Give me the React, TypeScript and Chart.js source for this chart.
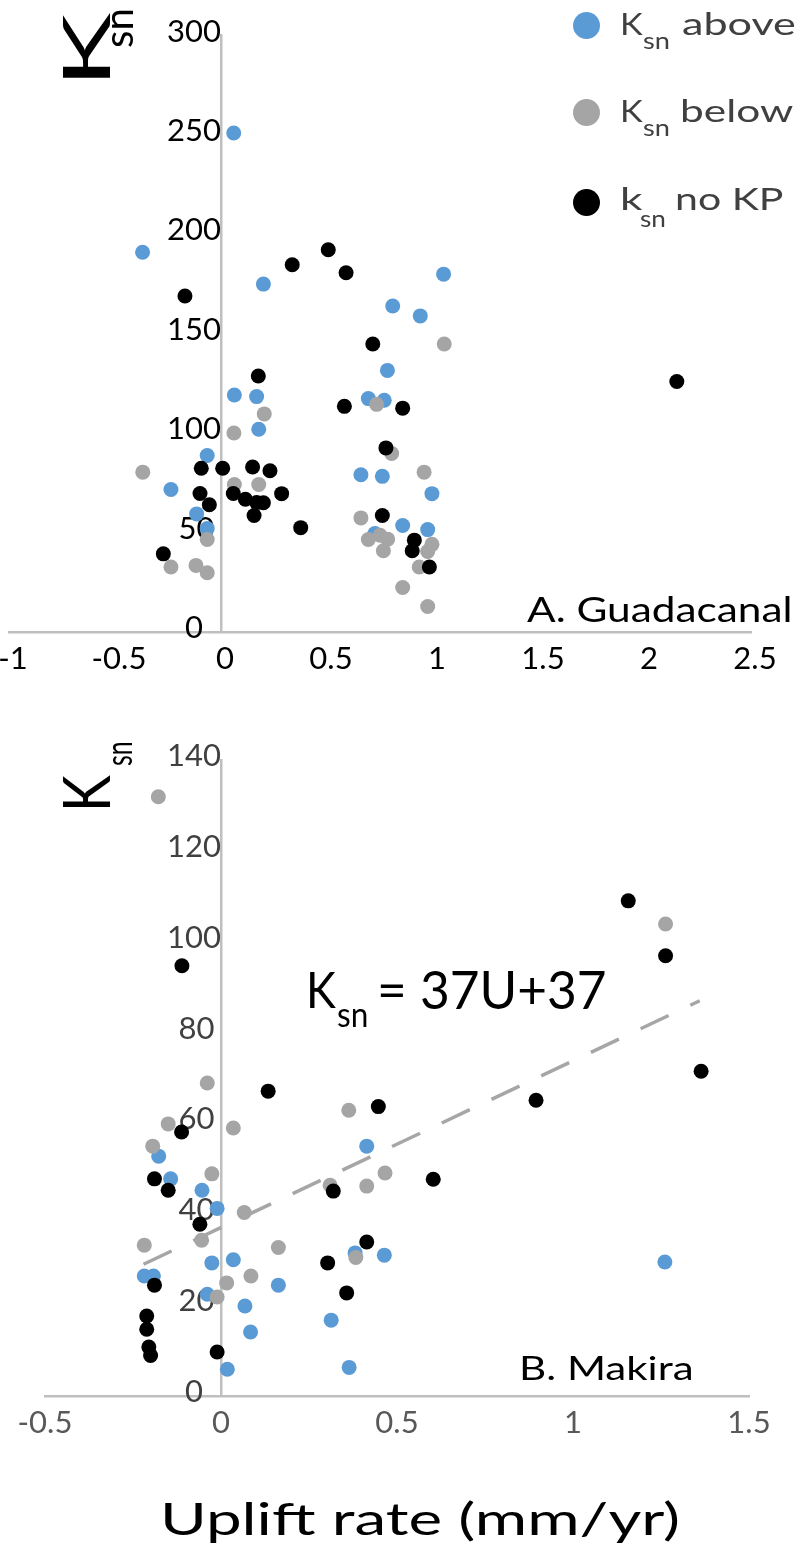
import React, { useEffect, useRef } from "react";
import { Chart, registerables } from "chart.js";

Chart.register(...registerables);

// ---------- data: Panel A (Guadacanal) ----------
const aAboveU = [0.06, -0.37, 0.2, 0.81, 1.05, 0.94, 0.785, 0.063, 0.168, 0.695, 0.77, 0.178, -0.065, 0.66, 0.761, -0.236, 0.995, -0.115, -0.065, 0.857, 0.975, 0.726];
const aAboveK = [251, 191, 175, 164, 180, 159, 131.6, 119.2, 118.4, 117.4, 116.6, 102, 88.8, 79.1, 78.3, 71.7, 69.6, 59.4, 52.0, 53.6, 51.5, 49.5];
const aBelowU = [1.053, 0.734, 0.204, 0.061, 0.805, -0.369, 0.958, 0.063, 0.178, 0.66, -0.065, 0.695, 0.75, 0.786, 0.995, 0.975, 0.766, -0.236, -0.118, -0.065, 0.935, 0.857, 0.975];
const aBelowK = [144.9, 114.5, 109.7, 100.1, 89.8, 80.4, 80.4, 74.2, 74.2, 57.4, 46.5, 46.5, 48.7, 46.7, 44.1, 40.5, 40.9, 32.7, 33.5, 29.8, 32.7, 22.4, 12.8];
const aNoKpU = [-0.17, 0.336, 0.506, 0.59, 2.15, 0.716, 0.176, 0.582, 0.857, 0.778, -0.093, 0.008, 0.149, 0.231, -0.099, 0.058, 0.286, 0.115, 0.2, 0.168, -0.055, 0.156, 0.761, 0.376, 0.912, -0.272, 0.902, 0.983];
const aNoKpK = [169, 184.7, 192.3, 180.7, 126, 144.9, 128.8, 113.5, 112.6, 92.6, 82.4, 82.4, 83.0, 81.1, 69.7, 69.7, 69.6, 66.8, 65.0, 65.1, 64.0, 58.6, 58.6, 52.5, 46.2, 39.3, 40.9, 32.7];
const aXTicks = [-1, -0.5, 0, 0.5, 1, 1.5, 2, 2.5];
const aYTicks = [0, 50, 100, 150, 200, 250, 300];

// ---------- data: Panel B (Makira) ----------
const bAboveU = [-0.177, 0.414, -0.143, -0.054, -0.011, 0.381, 0.464, -0.026, 0.035, -0.218, -0.192, 0.163, -0.039, 0.068, 0.313, 0.084, 0.018, 0.364, 1.261];
const bAboveK = [52.8, 55.0, 47.8, 45.3, 41.3, 31.5, 31.0, 29.3, 30.0, 26.4, 26.4, 24.4, 22.4, 19.8, 16.7, 14.1, 5.9, 6.3, 29.5];
const bBelowU = [-0.178, 1.263, -0.039, 0.363, -0.15, 0.035, -0.194, -0.026, 0.466, 0.414, 0.31, 0.066, -0.055, -0.218, 0.163, 0.383, 0.085, 0.016, -0.011];
const bBelowK = [131.9, 103.9, 68.9, 62.9, 59.9, 59.0, 55.0, 48.9, 49.1, 46.2, 46.4, 40.4, 34.3, 33.2, 32.7, 30.5, 26.4, 24.9, 21.8];
const bNoKpU = [-0.111, 1.157, 1.263, 1.364, 0.134, 0.447, 0.895, -0.112, 0.603, -0.189, -0.15, 0.319, -0.06, 0.414, 0.303, -0.189, 0.357, -0.211, -0.211, -0.205, -0.2, -0.011];
const bNoKpK = [94.7, 109.0, 96.9, 71.5, 67.1, 63.7, 65.1, 58.1, 47.7, 47.8, 45.3, 45.1, 37.8, 33.9, 29.3, 24.4, 22.7, 17.6, 14.7, 10.8, 8.9, 9.7];
const bTrendU = [-0.22, 1.36];
const bTrendK = [29, 87];
const bXTicks = [-0.5, 0, 0.5, 1, 1.5];
const bYTicks = [0, 20, 40, 60, 80, 100, 120, 140];

const seriesNames = ["Ksn above", "Ksn below", "ksn no KP"];

// ---------- style ----------
const FONT = "Lato";
const BLUE = "#5B9BD5";
const GRAY = "#A5A5A5";
const BLACK = "#000000";
const AXIS = "#BFBFBF";
const R = 7.5;

const pts = (u: number[], k: number[]) => u.map((x, i) => ({ x, y: k[i] }));

// y labels are centred on a three-digit column, as in the figure
const yLabel = (v: number) => {
  const s = String(v);
  const miss = 3 - s.length;
  return s + (miss === 2 ? "\u2007" : miss === 1 ? "\u2008" : "");
};

function scatterSet(label: string, u: number[], k: number[], color: string, order: number) {
  return {
    label,
    data: pts(u, k),
    backgroundColor: color,
    pointBackgroundColor: color,
    pointBorderWidth: 0,
    borderWidth: 0,
    pointRadius: R,
    pointHoverRadius: R,
    order,
  };
}

function makeConfig(o: any) {
  return {
    type: "scatter",
    data: { datasets: o.datasets },
    options: {
      animation: false,
      responsive: false,
      events: [],
      layout: { padding: o.pad },
      plugins: { legend: { display: false }, tooltip: { enabled: false } },
      scales: {
        x: {
          type: "linear",
          position: "bottom",
          min: o.xTicks[0],
          max: o.xTicks[o.xTicks.length - 1],
          afterBuildTicks: (s: any) => {
            s.ticks = o.xTicks.map((v: number) => ({ value: v }));
          },
          afterFit: (s: any) => {
            s.height = o.xAxisHeight;
            s.paddingLeft = 0;
            s.paddingRight = 0;
            s.paddingTop = 0;
            s.paddingBottom = 0;
          },
          grid: { display: false, drawTicks: false },
          border: { display: true, color: AXIS, width: 2.5 },
          ticks: {
            color: o.xColor,
            font: { family: FONT, size: 31 },
            padding: 8,
            minRotation: 0,
            maxRotation: 0,
            autoSkip: false,
            labelOffset: o.xLabelOffset || 0,
            callback: (v: number) => String(v),
          },
        },
        y: {
          type: "linear",
          position: { x: 0 },
          min: o.yTicks[0],
          max: o.yTicks[o.yTicks.length - 1],
          afterBuildTicks: (s: any) => {
            s.ticks = o.yTicks.map((v: number) => ({ value: v }));
          },
          grid: { display: false, drawTicks: false },
          border: { display: true, color: AXIS, width: 2.5 },
          ticks: {
            color: o.yColor,
            font: { family: FONT, size: 31 },
            padding: 17,
            labelOffset: -4,
            autoSkip: false,
            callback: (v: number) => yLabel(v),
          },
        },
      },
    },
  };
}

const configA = () =>
  makeConfig({
    datasets: [
      scatterSet(seriesNames[0], aAboveU, aAboveK, BLUE, 3),
      scatterSet(seriesNames[1], aBelowU, aBelowK, GRAY, 2),
      scatterSet(seriesNames[2], aNoKpU, aNoKpK, BLACK, 1),
    ],
    xTicks: aXTicks,
    yTicks: aYTicks,
    pad: { left: 29, right: 49, top: 24, bottom: 0 },
    xAxisHeight: 68,
    xColor: "#000000",
    yColor: "#000000",
    xLabelOffset: 4,
  });

const configB = () =>
  makeConfig({
    datasets: [
      {
        type: "line",
        label: "trend",
        data: pts(bTrendU, bTrendK),
        borderColor: "#A6A6A6",
        borderWidth: 3.5,
        borderDash: [31, 24],
        pointRadius: 0,
        fill: false,
        showLine: true,
        order: 0,
      },
      scatterSet(seriesNames[0], bAboveU, bAboveK, BLUE, 3),
      scatterSet(seriesNames[1], bBelowU, bBelowK, GRAY, 2),
      scatterSet(seriesNames[2], bNoKpU, bNoKpK, BLACK, 1),
    ],
    xTicks: bXTicks,
    yTicks: bYTicks,
    pad: { left: 65, right: 51, top: 60, bottom: 0 },
    xAxisHeight: 169,
    xColor: "#595959",
    yColor: "#404040",
  });

function ChartCanvas({ make, left, top, width, height }: any) {
  const ref = useRef<HTMLCanvasElement>(null);
  useEffect(() => {
    const chart = new Chart(ref.current as HTMLCanvasElement, make() as any);
    return () => chart.destroy();
  }, []);
  return (
    <canvas
      ref={ref}
      width={width}
      height={height}
      style={{ position: "absolute", left, top, width, height }}
    />
  );
}

// ---------- text placed by ink box ----------
let measureCtx: CanvasRenderingContext2D | null = null;
function getCtx() {
  if (!measureCtx) measureCtx = document.createElement("canvas").getContext("2d");
  return measureCtx as CanvasRenderingContext2D;
}

function Txt({ text, size, color = "#000", s0, s1, base, rotate = false }: any) {
  const ctx = getCtx();
  ctx.font = `400 ${size}px ${FONT}`;
  const m = ctx.measureText(text);
  const fa = m.fontBoundingBoxAscent || size * 0.99;
  const fd = m.fontBoundingBoxDescent || size * 0.22;
  const inkL = -m.actualBoundingBoxLeft;
  const inkR = m.actualBoundingBoxRight;
  const inkW = Math.max(1, inkR - inkL);
  const target = s1 !== undefined ? Math.abs(s1 - s0) : inkW;
  const sc = target / inkW;
  let pos: any;
  if (!rotate) {
    pos = { left: s0 - inkL * sc, top: base - fa, transform: `scaleX(${sc})` };
  } else {
    const oy = s0 + inkL * sc;
    pos = { left: base, top: oy - fa, transform: `rotate(-90deg) scaleX(${sc})` };
  }
  return (
    <div
      style={{
        position: "absolute",
        fontFamily: FONT,
        fontSize: size,
        fontWeight: 400,
        lineHeight: `${fa + fd}px`,
        whiteSpace: "pre",
        color,
        transformOrigin: `0px ${fa}px`,
        ...pos,
      }}
    >
      {text}
    </div>
  );
}

function Dot({ cx, cy, color }: any) {
  return (
    <div
      style={{
        position: "absolute",
        left: cx - 13.5,
        top: cy - 13.5,
        width: 27,
        height: 27,
        borderRadius: "50%",
        background: color,
      }}
    />
  );
}

export default function App() {
  const LG = "#404040";
  return (
    <div
      style={{
        position: "absolute",
        left: 0,
        top: 0,
        width: 800,
        height: 1565,
        overflow: "hidden",
        background: "#fff",
      }}
    >
      <ChartCanvas make={configA} left={-20} top={0} width={820} height={700} />
      <ChartCanvas make={configB} left={-20} top={700} width={820} height={865} />

      {/* Y titles */}
      <Txt text="K" size={66} s0={78} s1={13} base={110} rotate />
      <Txt text="sn" size={41} s0={47} s1={10} base={133} rotate />
      <Txt text="K" size={66} s0={807} s1={775} base={110} rotate />
      <Txt text="sn" size={37} s0={765} s1={742} base={132} rotate />

      {/* legend */}
      <Dot cx={586} cy={25} color={BLUE} />
      <Txt text="K" size={31} color={LG} s0={622} s1={643} base={35} />
      <Txt text="sn" size={23} color={LG} s0={643} s1={669} base={49} />
      <Txt text="above" size={31} color={LG} s0={683} s1={795} base={35} />

      <Dot cx={586} cy={112} color={GRAY} />
      <Txt text="K" size={31} color={LG} s0={622} s1={643} base={122} />
      <Txt text="sn" size={23} color={LG} s0={643} s1={669} base={136} />
      <Txt text="below" size={31} color={LG} s0={683} s1={793} base={122} />

      <Dot cx={586} cy={202} color={BLACK} />
      <Txt text="k" size={31} color={LG} s0={623} s1={643} base={210} />
      <Txt text="sn" size={23} color={LG} s0={640} s1={665} base={227} />
      <Txt text="no KP" size={31} color={LG} s0={678} s1={783} base={210} />

      {/* panel labels */}
      <Txt text="A. Guadacanal" size={34} s0={527} s1={790} base={622} />
      <Txt text="B. Makira" size={33} s0={523} s1={692} base={1380} />

      {/* regression equation */}
      <Txt text="K" size={50} s0={310} s1={337} base={1008} />
      <Txt text="sn" size={35} s0={338} s1={367} base={1027} />
      <Txt text="= 37U+37" size={53} s0={380} s1={605} base={1009} />

      {/* shared x title */}
      <Txt text="Uplift rate (mm/yr)" size={45} s0={164} s1={677} base={1535} />
    </div>
  );
}
